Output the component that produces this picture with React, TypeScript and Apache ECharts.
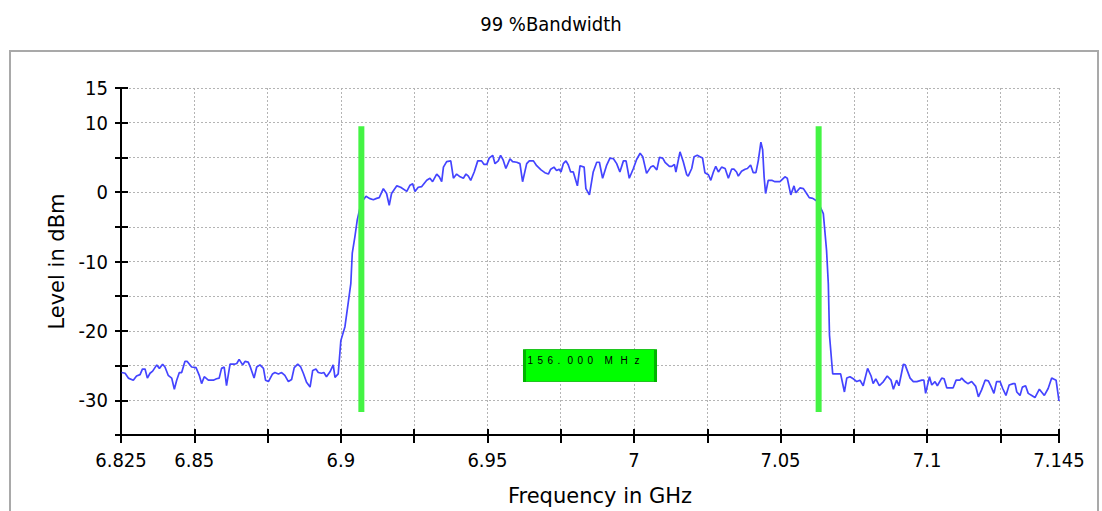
import React, { useEffect, useRef } from "react";
import * as echarts from "echarts";

const freqGHz = [
  6.8252, 6.8264, 6.8275, 6.8292, 6.8303, 6.8315, 6.8323, 6.8332, 6.834, 6.8349,
  6.8358, 6.8372, 6.8381, 6.8392, 6.84, 6.8411, 6.8423, 6.8432, 6.844, 6.8449,
  6.8457, 6.8468, 6.8476, 6.8491, 6.8506, 6.8517, 6.8525, 6.8534, 6.8548, 6.8565,
  6.8576, 6.8585, 6.8593, 6.8602, 6.861, 6.8622, 6.8637, 6.8645, 6.8653, 6.8659,
  6.8665, 6.8673, 6.8684, 6.8692, 6.8704, 6.8713, 6.8724, 6.8736, 6.8743, 6.8753,
  6.8767, 6.8775, 6.8787, 6.8798, 6.8809, 6.8821, 6.8832, 6.8841, 6.8853, 6.8863,
  6.8872, 6.8883, 6.8895, 6.8904, 6.8915, 6.8923, 6.8934, 6.8942, 6.8951, 6.8963,
  6.8974, 6.898, 6.8991,
  6.9, 6.9014, 6.9025, 6.9034, 6.9039, 6.9048, 6.9056, 6.9065, 6.9075, 6.9086,
  6.9097, 6.9111, 6.9122, 6.9131, 6.9145, 6.9156, 6.9165, 6.9173, 6.9191, 6.9204,
  6.9225, 6.9236, 6.9245, 6.9253, 6.9264, 6.9276, 6.9293, 6.9304, 6.9313, 6.9327,
  6.9336, 6.9344, 6.935, 6.9361, 6.9375, 6.9384, 6.9395, 6.9407, 6.9418, 6.9427,
  6.9435, 6.9443, 6.9455, 6.9467, 6.948, 6.9488, 6.9498, 6.9506, 6.9518, 6.9526,
  6.9537, 6.9545, 6.9554, 6.9563, 6.9577, 6.9586, 6.96, 6.9611, 6.962, 6.9634,
  6.9643, 6.9657, 6.9668, 6.9683, 6.9696, 6.9708, 6.9716, 6.9727, 6.9736, 6.9745,
  6.9751, 6.9759, 6.9768, 6.9776, 6.9784, 6.9793, 6.9807, 6.9816, 6.983, 6.9836,
  6.9848, 6.9861, 6.9873, 6.9882, 6.9893, 6.9907, 6.9918, 6.993, 6.9941, 6.9952,
  6.9964, 6.9973, 6.9984, 6.9998, 7.0009, 7.0021, 7.003, 7.0043, 7.0057, 7.0066,
  7.0078, 7.0087, 7.0098, 7.0106, 7.0121, 7.0129, 7.0138, 7.0143, 7.0157, 7.0168,
  7.018, 7.0185, 7.0197, 7.0205, 7.0216, 7.0225, 7.0234, 7.0242, 7.0254, 7.0262,
  7.0271, 7.0279, 7.0288, 7.0299, 7.0311, 7.0322, 7.0333, 7.0341, 7.035, 7.0356,
  7.0367, 7.0379, 7.0387, 7.0398, 7.0407, 7.0416, 7.0424, 7.0433, 7.0439, 7.0444,
  7.0449, 7.0458, 7.047, 7.0481, 7.0498, 7.0515, 7.0523, 7.0535, 7.0546, 7.0552,
  7.0566, 7.0578, 7.0589, 7.0598, 7.061, 7.0621, 7.0629, 7.0635, 7.0646, 7.0657,
  7.0663, 7.0667, 7.0675, 7.0678, 7.0705, 7.0718, 7.0726, 7.0737, 7.0748, 7.076,
  7.0771, 7.0782, 7.0797, 7.0809, 7.0816, 7.0825, 7.0837, 7.0851, 7.0864, 7.0877,
  7.0885, 7.0896, 7.0904, 7.0919, 7.0925, 7.0942, 7.0953, 7.0965, 7.0982, 7.0989,
  7.0995, 7.1008, 7.1016, 7.1027, 7.1035, 7.105, 7.1058, 7.1067, 7.1089, 7.1099,
  7.1112, 7.1118, 7.1129, 7.1139, 7.1152, 7.1166, 7.1175, 7.1186, 7.1198, 7.1209,
  7.1218, 7.1228, 7.1237, 7.1249, 7.1258, 7.1269, 7.128, 7.1294, 7.13, 7.1306,
  7.1317, 7.1325, 7.1336, 7.1345, 7.1357, 7.1368, 7.1383, 7.14, 7.1413, 7.1425,
  7.144, 7.145,
];

const levelDbm = [
  -26.0, -26.1, -26.8, -27.1, -26.5, -26.3, -25.5, -25.5, -26.8, -26.1,
  -25.8, -24.9, -25.4, -24.8, -25.2, -26.4, -26.8, -28.4, -27.1, -26.0,
  -26.0, -24.4, -24.4, -25.2, -25.3, -26.4, -27.6, -26.6, -27.1, -27.1,
  -26.9, -26.8, -25.4, -25.2, -27.9, -24.8, -24.8, -24.7, -24.1, -24.5,
  -24.9, -24.4, -24.5, -25.3, -26.8, -25.2, -24.9, -25.4, -27.1, -27.3,
  -26.2, -26.0, -26.2, -26.0, -26.4, -27.3, -27.0, -25.3, -24.8, -25.2,
  -26.1, -27.4, -28.1, -25.7, -25.5, -26.0, -26.1, -26.0, -26.6, -25.9,
  -24.9, -26.7, -26.2,
  -21.4, -19.4, -16.0, -13.2, -8.8, -6.4, -4.0, -2.3, -1.2, -0.6,
  -0.9, -1.1, -0.9, -0.8, 0.5, -0.2, -1.9, -0.2, 0.9, 0.7,
  0.1, 1.0, 1.2, 0.1, 0.7, 0.8, 1.7, 2.0, 1.5, 2.6,
  2.2, 1.5, 3.6, 4.4, 4.5, 2.0, 2.6, 2.2, 2.0, 2.6,
  2.3, 1.7, 2.9, 4.5, 4.5, 4.0, 4.0, 4.9, 5.3, 4.1,
  4.5, 5.3, 4.6, 3.4, 4.8, 4.4, 4.3, 4.1, 1.5, 4.1,
  4.5, 4.5, 3.8, 3.2, 2.8, 2.6, 3.3, 3.6, 3.1, 3.3,
  2.9, 4.1, 4.5, 3.9, 2.9, 2.9, 0.9, 3.8, 3.6, 0.5,
  -0.4, 2.9, 4.3, 4.3, 2.0, 3.9, 4.9, 4.8, 4.1, 2.9,
  4.5, 4.5, 2.0, 3.4, 4.7, 5.6, 5.1, 2.7, 3.6, 3.8,
  3.2, 5.0, 4.9, 4.3, 3.7, 3.7, 4.0, 2.9, 5.8, 4.4,
  2.5, 2.3, 3.4, 5.1, 5.3, 5.1, 4.9, 2.8, 2.5, 1.7,
  2.9, 3.7, 2.9, 3.6, 3.4, 2.0, 3.3, 3.3, 2.9, 2.3,
  3.0, 3.3, 3.4, 3.9, 2.8, 2.8, 4.5, 7.2, 6.1, 2.2,
  -0.2, 1.7, 1.7, 1.5, 1.5, 2.2, 2.0, -0.4, 0.9, -0.1,
  0.6, 0.5, -0.2, -0.8, -0.9, -1.2, -1.5, -2.1, -3.1, -8.4,
  -13.2, -20.6, -24.7, -26.2, -26.2, -28.8, -26.8, -26.6, -26.9, -27.3,
  -27.1, -27.9, -25.4, -26.5, -27.6, -26.9, -27.9, -27.3, -26.5, -27.1,
  -28.4, -27.1, -27.9, -24.8, -24.9, -26.8, -27.3, -27.3, -27.1, -27.1,
  -29.0, -26.6, -27.8, -27.3, -27.9, -26.8, -26.9, -28.2, -28.2, -27.1,
  -27.1, -26.8, -27.3, -27.6, -27.3, -28.0, -29.5, -28.5, -27.1, -27.2,
  -28.0, -29.0, -27.3, -27.3, -28.3, -29.3, -27.8, -27.6, -27.6, -28.8,
  -29.3, -28.1, -27.9, -29.0, -29.3, -29.6, -28.4, -29.3, -28.3, -26.8,
  -27.1, -30.1,
];

const markerFreqs = [6.907, 7.063];
const markerRange = [-31.7, 9.5];
const bandwidthBoxLevel = -25.0;

const xTickLabels = ["6.825", "6.85", "6.9", "6.95", "7", "7.05", "7.1", "7.145"];
const yTickLabels = ["15", "10", "0", "-10", "-20", "-30"];

const X_MIN = 6.825;
const X_MAX = 7.145;
const X_STEP = 0.025;
const Y_MIN = -35;
const Y_MAX = 15;
const Y_STEP = 5;

const tickFont = "'Liberation Sans Narrow', 'DejaVu Sans Condensed', 'Liberation Sans', sans-serif";
const nameFont = "'DejaVu Sans', sans-serif";

function pickLabel(list: string[], v: number) {
  const hit = list.find((l) => Math.abs(parseFloat(l) - v) < 1e-6);
  return hit === undefined ? "" : hit;
}

function charStyle(ch: string) {
  if (ch === " ") return "sp";
  if (ch === "M") return "wm";
  if (ch === "H") return "wh";
  return "c";
}

export default function App() {
  const ref = useRef<HTMLDivElement>(null);

  useEffect(() => {
    if (!ref.current) return;
    const chart = echarts.init(ref.current, undefined, { renderer: "svg" });

    const spectrum = freqGHz.map((f, i) => [f, levelDbm[i]]);
    const bwMHz = ((markerFreqs[1] - markerFreqs[0]) * 1000).toFixed(3);
    const bwText = (bwMHz + " MHz")
      .split("")
      .map((ch) => "{" + charStyle(ch) + "|" + (ch === " " ? " " : ch) + "}")
      .join("");
    const midF = (markerFreqs[0] + markerFreqs[1]) / 2;

    const gridLine = { show: true, lineStyle: { color: "#b4b4b4", type: [2, 2], width: 1 } };
    const boxChar = { fontFamily: "'Liberation Sans', Arial, sans-serif", fontSize: 10, color: "#000", align: "left" };

    chart.setOption({
      animation: false,
      backgroundColor: "transparent",
      title: {
        text: "99 %Bandwidth",
        left: "center",
        top: 9,
        textStyle: { fontFamily: tickFont, fontSize: 20, fontWeight: "normal", color: "#000" },
      },
      grid: { left: 121, right: 43, top: 88, bottom: 76, containLabel: false },
      xAxis: [
        {
          type: "value",
          min: X_MIN,
          max: X_MAX,
          interval: X_STEP,
          position: "bottom",
          name: "Frequency in GHz",
          nameLocation: "middle",
          nameGap: 50,
          nameTextStyle: { fontFamily: nameFont, fontSize: 21, color: "#000", padding: [0, 0, 0, 20] },
          axisLine: { show: true, onZero: false, lineStyle: { color: "#000", width: 2 } },
          axisTick: { show: true, length: 8, lineStyle: { color: "#000", width: 2 } },
          axisLabel: {
            margin: 15,
            fontFamily: tickFont,
            fontSize: 20,
            color: "#000",
            formatter: (v: number) => pickLabel(xTickLabels, v),
          },
          splitLine: gridLine,
        },
        {
          type: "value",
          min: X_MIN,
          max: X_MAX,
          interval: X_STEP,
          position: "bottom",
          axisLine: { show: false, onZero: false },
          axisTick: { show: true, inside: true, length: 6, lineStyle: { color: "#000", width: 2 } },
          axisLabel: { show: false },
          splitLine: { show: false },
        },
      ],
      yAxis: [
        {
          type: "value",
          min: Y_MIN,
          max: Y_MAX,
          interval: Y_STEP,
          position: "left",
          name: "Level in dBm",
          nameLocation: "middle",
          nameRotate: 90,
          nameGap: 50,
          nameTextStyle: { fontFamily: nameFont, fontSize: 21, color: "#000" },
          axisLine: { show: true, onZero: false, lineStyle: { color: "#000", width: 2 } },
          axisTick: { show: true, length: 6, lineStyle: { color: "#000", width: 2 } },
          axisLabel: {
            margin: 13,
            fontFamily: tickFont,
            fontSize: 20,
            color: "#000",
            formatter: (v: number) => pickLabel(yTickLabels, v),
          },
          splitLine: gridLine,
        },
        {
          type: "value",
          min: Y_MIN,
          max: Y_MAX,
          interval: Y_STEP,
          position: "left",
          axisLine: { show: false, onZero: false },
          axisTick: { show: true, inside: true, length: 7, lineStyle: { color: "#000", width: 2 } },
          axisLabel: { show: false },
          splitLine: { show: false },
        },
      ],
      series: [
        {
          name: "Spectrum",
          type: "line",
          data: spectrum,
          showSymbol: false,
          symbol: "none",
          z: 3,
          lineStyle: { color: "#4444ff", width: 1.7 },
          markPoint: {
            silent: true,
            symbol: "rect",
            symbolSize: [131, 32],
            itemStyle: { color: "#00ff00", borderColor: "#00b400", borderWidth: 1.5 },
            label: {
              show: true,
              position: "inside",
              offset: [-4, -5],
              formatter: () => bwText,
              rich: {
                c: { ...boxChar, width: 10 },
                sp: { ...boxChar, width: 7 },
                wm: { ...boxChar, width: 16 },
                wh: { ...boxChar, width: 14 },
              },
            },
            data: [{ coord: [midF, bandwidthBoxLevel] }],
          },
        },
        ...markerFreqs.map((f, i) => ({
          name: "Marker " + (i + 1),
          type: "line",
          data: [
            [f, markerRange[0]],
            [f, markerRange[1]],
          ],
          showSymbol: false,
          symbol: "none",
          z: 4,
          lineStyle: { color: "#44f444", width: 6, cap: "butt" },
        })),
      ],
    });

    return () => chart.dispose();
  }, []);

  return (
    <div style={{ position: "fixed", left: 0, top: 0, width: 1102, height: 511, background: "#fff", overflow: "hidden" }}>
      <div
        style={{
          position: "absolute",
          left: 9,
          top: 50,
          width: 1090,
          height: 480,
          borderTop: "2px solid #a9a9a9",
          borderLeft: "2px solid #a9a9a9",
          borderRight: "2px solid #a9a9a9",
          boxSizing: "border-box",
        }}
      />
      <div ref={ref} style={{ position: "absolute", left: 0, top: 0, width: 1102, height: 511 }} />
    </div>
  );
}
